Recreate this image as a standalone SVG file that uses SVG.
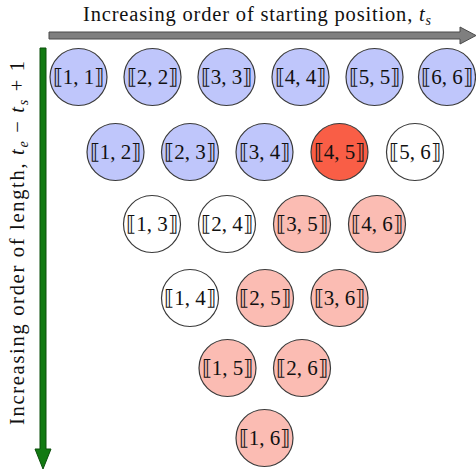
<svg xmlns="http://www.w3.org/2000/svg" width="476" height="471" viewBox="0 0 476 471">
<style>
.n circle{stroke:#3a3a3a;stroke-width:1.2}
.b circle{fill:#bfc6fb}
.r circle{fill:#fbbcb3}
.d circle{fill:#f95e46}
.w circle{fill:#ffffff}
text{font-family:"Liberation Serif","DejaVu Serif",serif;fill:#111}
.n text{font-size:21px;text-anchor:middle;dominant-baseline:central}
.n text tspan.k{font-family:"DejaVu Serif","DejaVu Sans",serif;font-weight:300}
.ax{font-size:20.5px}
.sub{font-size:14px;font-style:italic}
</style>
<rect width="476" height="471" fill="#fff"/>
<g id="axes">
<path d="M49,32 H460 V27 L476,35.5 L460,44 V39 H49 Z" fill="#7f7f7f" stroke="#4a4a4a" stroke-width="1"/>
<path d="M40,48 H46 V449 H51 L43,469 L35,449 H40 Z" fill="#127a12" stroke="#0b4f0b" stroke-width="1"/>
<text class="ax" x="83" y="21" textLength="348" lengthAdjust="spacing">Increasing order of starting position, <tspan font-style="italic">t</tspan><tspan class="sub" dy="4">s</tspan></text>
<text class="ax" transform="translate(24,425) rotate(-90)" textLength="364" lengthAdjust="spacing">Increasing order of length, <tspan font-style="italic">t</tspan><tspan class="sub" dy="4">e</tspan><tspan dy="-4"> − </tspan><tspan font-style="italic">t</tspan><tspan class="sub" dy="4">s</tspan><tspan dy="-4"> + 1</tspan></text>
</g>
<g id="n11" class="n b"><circle cx="78.5" cy="77" r="28.5"/><text x="78.5" y="77"><tspan class="k">⟦</tspan>1, 1<tspan class="k">⟧</tspan></text></g>
<g id="n22" class="n b"><circle cx="152.5" cy="77" r="28.5"/><text x="152.5" y="77"><tspan class="k">⟦</tspan>2, 2<tspan class="k">⟧</tspan></text></g>
<g id="n33" class="n b"><circle cx="226.5" cy="77" r="28.5"/><text x="226.5" y="77"><tspan class="k">⟦</tspan>3, 3<tspan class="k">⟧</tspan></text></g>
<g id="n44" class="n b"><circle cx="300.5" cy="77" r="28.5"/><text x="300.5" y="77"><tspan class="k">⟦</tspan>4, 4<tspan class="k">⟧</tspan></text></g>
<g id="n55" class="n b"><circle cx="374.5" cy="77" r="28.5"/><text x="374.5" y="77"><tspan class="k">⟦</tspan>5, 5<tspan class="k">⟧</tspan></text></g>
<g id="n66" class="n b"><circle cx="447" cy="77" r="28.5"/><text x="447" y="77"><tspan class="k">⟦</tspan>6, 6<tspan class="k">⟧</tspan></text></g>
<g id="n12" class="n b"><circle cx="115.5" cy="152" r="28.5"/><text x="115.5" y="152"><tspan class="k">⟦</tspan>1, 2<tspan class="k">⟧</tspan></text></g>
<g id="n23" class="n b"><circle cx="190" cy="152" r="28.5"/><text x="190" y="152"><tspan class="k">⟦</tspan>2, 3<tspan class="k">⟧</tspan></text></g>
<g id="n34" class="n b"><circle cx="264.5" cy="152" r="28.5"/><text x="264.5" y="152"><tspan class="k">⟦</tspan>3, 4<tspan class="k">⟧</tspan></text></g>
<g id="n45" class="n d"><circle cx="339.5" cy="152" r="28.5"/><text x="339.5" y="152"><tspan class="k">⟦</tspan>4, 5<tspan class="k">⟧</tspan></text></g>
<g id="n56" class="n w"><circle cx="415" cy="152" r="28.5"/><text x="415" y="152"><tspan class="k">⟦</tspan>5, 6<tspan class="k">⟧</tspan></text></g>
<g id="n13" class="n w"><circle cx="152" cy="224" r="28.5"/><text x="152" y="224"><tspan class="k">⟦</tspan>1, 3<tspan class="k">⟧</tspan></text></g>
<g id="n24" class="n w"><circle cx="227" cy="224" r="28.5"/><text x="227" y="224"><tspan class="k">⟦</tspan>2, 4<tspan class="k">⟧</tspan></text></g>
<g id="n35" class="n r"><circle cx="302" cy="224" r="28.5"/><text x="302" y="224"><tspan class="k">⟦</tspan>3, 5<tspan class="k">⟧</tspan></text></g>
<g id="n46" class="n r"><circle cx="377" cy="224" r="28.5"/><text x="377" y="224"><tspan class="k">⟦</tspan>4, 6<tspan class="k">⟧</tspan></text></g>
<g id="n14" class="n w"><circle cx="190" cy="298" r="28.5"/><text x="190" y="298"><tspan class="k">⟦</tspan>1, 4<tspan class="k">⟧</tspan></text></g>
<g id="n25" class="n r"><circle cx="265" cy="298" r="28.5"/><text x="265" y="298"><tspan class="k">⟦</tspan>2, 5<tspan class="k">⟧</tspan></text></g>
<g id="n36" class="n r"><circle cx="339.5" cy="298" r="28.5"/><text x="339.5" y="298"><tspan class="k">⟦</tspan>3, 6<tspan class="k">⟧</tspan></text></g>
<g id="n15" class="n r"><circle cx="227.5" cy="368" r="28.5"/><text x="227.5" y="368"><tspan class="k">⟦</tspan>1, 5<tspan class="k">⟧</tspan></text></g>
<g id="n26" class="n r"><circle cx="302" cy="368" r="28.5"/><text x="302" y="368"><tspan class="k">⟦</tspan>2, 6<tspan class="k">⟧</tspan></text></g>
<g id="n16" class="n r"><circle cx="264.5" cy="438" r="28.5"/><text x="264.5" y="438"><tspan class="k">⟦</tspan>1, 6<tspan class="k">⟧</tspan></text></g>
<g id="connectors"></g>
</svg>
